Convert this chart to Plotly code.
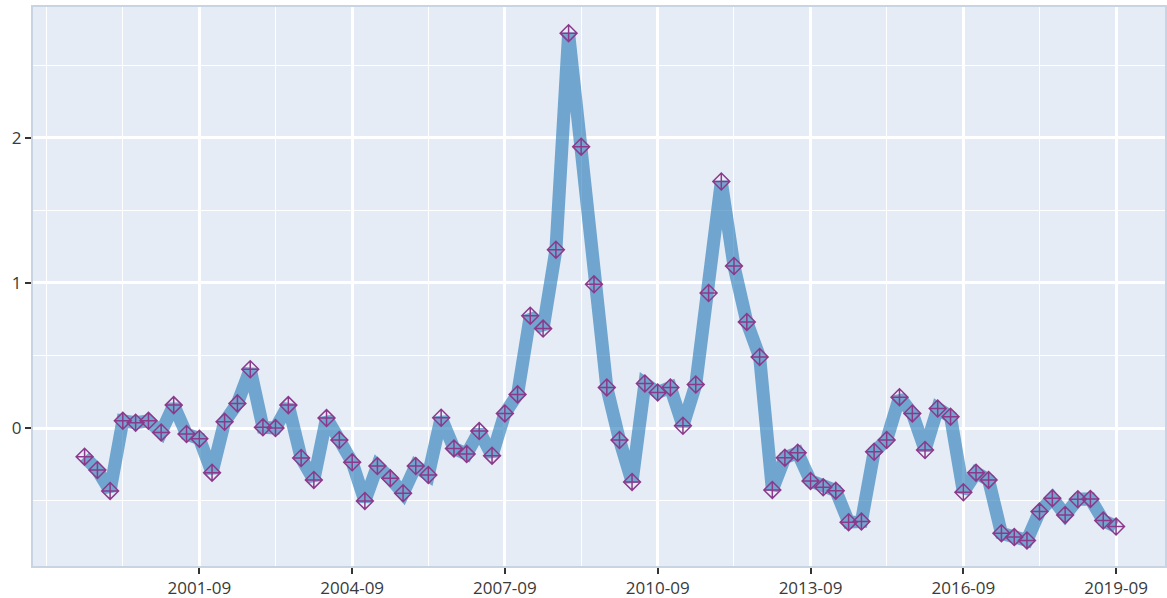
import pandas as pd
import plotly.graph_objects as go

start_date = "1999-06-01"
values = [
    -0.197, -0.289, -0.433, 0.050, 0.037, 0.050, -0.030, 0.158, -0.041, -0.073,
    -0.307, 0.043, 0.170, 0.405, 0.005, 0.000, 0.158, -0.206, -0.357, 0.069,
    -0.082, -0.236, -0.502, -0.261, -0.346, -0.449, -0.261, -0.323, 0.071, -0.140,
    -0.179, -0.021, -0.190, 0.101, 0.232, 0.774, 0.685, 1.228, 2.720, 1.938,
    0.990, 0.280, -0.082, -0.371, 0.307, 0.245, 0.280, 0.016, 0.300, 0.930,
    1.698, 1.116, 0.731, 0.490, -0.426, -0.204, -0.170, -0.364, -0.408, -0.431,
    -0.648, -0.644, -0.163, -0.082, 0.213, 0.101, -0.151, 0.135, 0.078, -0.442,
    -0.307, -0.357, -0.724, -0.751, -0.774, -0.575, -0.483, -0.598, -0.490, -0.488,
    -0.637, -0.678,
]
x_tick_labels = ["2001-09", "2004-09", "2007-09", "2010-09", "2013-09", "2016-09", "2019-09"]

dates = pd.date_range(start_date, periods=len(values), freq="3MS")
x_tick_vals = [pd.Timestamp(t + "-01") for t in x_tick_labels]

fig = go.Figure()
fig.add_trace(go.Scatter(
    x=dates, y=values, mode="lines+markers",
    line=dict(color="rgba(31,119,180,0.6)", width=13),
    marker=dict(symbol="diamond-cross-open", size=13,
                color="#8B3A8B", line=dict(color="#8B3A8B", width=1.5)),
))

axis_common = dict(
    showgrid=True, gridcolor="white", gridwidth=2.5,
    showline=True, linecolor="#C9D4E2", linewidth=2, mirror=True,
    ticks="outside", tickcolor="#333", ticklen=6, tickwidth=2,
    tickfont=dict(family="Open Sans", size=17, color="#3a3a3a"),
    zeroline=False, automargin=False,
)
fig.update_xaxes(
    **axis_common,
    type="date", range=["1998-05-27", "2020-08-17"],
    tickmode="array", tickvals=x_tick_vals, ticktext=x_tick_labels,
    minor=dict(dtick="M18", tick0="2001-09-01", showgrid=True,
               gridcolor="white", gridwidth=1, ticks=""),
)
fig.update_yaxes(
    **axis_common,
    range=[-0.95, 2.9], dtick=1, tick0=0,
    minor=dict(dtick=0.5, showgrid=True, gridcolor="white", gridwidth=1, ticks=""),
)
fig.update_layout(
    width=1167, height=598,
    margin=dict(l=33, r=2, t=7, b=32),
    paper_bgcolor="white", plot_bgcolor="#E5ECF6",
    showlegend=False,
)
fig.write_html("out.html", config={"displayModeBar": False},
               post_script="document.body.style.margin='0';document.body.style.overflow='hidden';")
